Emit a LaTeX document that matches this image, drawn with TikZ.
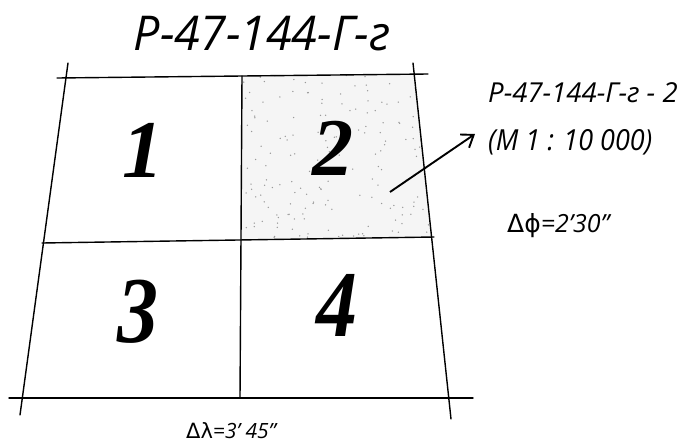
\documentclass[tikz,border=0pt]{standalone}
\usepackage{fontspec}
\setmainfont{Liberation Serif}
\newfontfamily\lblfont{Open Sans}
\newfontfamily\grkfont{DejaVu Sans}
\usetikzlibrary{arrows.meta}
\begin{document}
\begin{tikzpicture}[x=1pt,y=-1pt,
  gridline/.style={line width=1.4pt, black, line cap=round},
  bigdigit/.style={inner sep=0pt, font=\fontsize{82}{82}\selectfont\bfseries\itshape},
  lbl/.style={inner sep=0pt, font=\lblfont\itshape},
  ptr/.style={line width=1.9pt, -{Straight Barb[length=11pt,width=16pt,line width=1.9pt]}}
]
\useasboundingbox (0,0) rectangle (695,447);
% corner and line end coordinates
\coordinate (tl0) at (57,78);   \coordinate (tr0) at (428,74);
\coordinate (ml0) at (42,243);  \coordinate (mr0) at (434,237);
\coordinate (bl0) at (9,398);   \coordinate (br0) at (473,398);
\coordinate (lv1) at (68,63);   \coordinate (lv2) at (20,415);
\coordinate (rv1) at (413,63);  \coordinate (rv2) at (451,419);
\coordinate (mv1) at (242,76);  \coordinate (mv2) at (240,398);
% shaded sheet 2
\begin{scope}
  \clip (242,76) -- (414,74) -- (432,238) -- (240,240) -- cycle;
  \fill[black!4] (230,60) rectangle (440,250);
  \pgfmathsetseed{7}
  \foreach \i in {1,...,170}{
    \pgfmathsetmacro{\px}{240+rnd*195}
    \pgfmathsetmacro{\py}{74+rnd*168}
    \fill[black!40] (\px,\py) circle (0.75pt);
  }
\end{scope}
% grid
\draw[gridline] (tl0) -- (tr0);
\draw[gridline] (ml0) -- (mr0);
\draw[gridline] (bl0) -- (br0);
\draw[gridline] (lv1) -- (lv2);
\draw[gridline] (rv1) -- (rv2);
\draw[gridline] (mv1) -- (mv2);
% digits
\node[bigdigit] (d1) at (143,150) {1};
\node[bigdigit] (d2) at (333,148) {2};
\node[bigdigit, yscale=1.15] (d3) at (138,312) {3};
\node[bigdigit, yscale=1.15] (d4) at (337,305) {4};
% titles
\node[lbl, anchor=base, font=\lblfont\itshape\fontsize{48}{48}\selectfont, xscale=0.97] (title) at (262,50) {Р-47-144-Г-г};
\node[lbl, anchor=base west, font=\lblfont\itshape\fontsize{27.5}{27.5}\selectfont] (name2) at (488,102) {Р-47-144-Г-г - 2};
\node[lbl, anchor=base west, font=\lblfont\itshape\fontsize{29}{29}\selectfont, xscale=0.93] (scale2) at (488,150) {(М 1 : 10 000)};
\node[lbl, anchor=base west, font=\lblfont\itshape\fontsize{25}{25}\selectfont] (dphi) at (507,232) {{\grkfont\upshape Δϕ}=2’30”};
\node[lbl, anchor=base west, font=\lblfont\itshape\fontsize{21}{21}\selectfont] (dlam) at (186,438) {{\grkfont\upshape Δλ}=3’ 45”};
% pointer
\coordinate (pstart) at (390,192);
\coordinate (pend) at (475,134);
\draw[ptr] (pstart) -- (pend);
\end{tikzpicture}
\end{document}
